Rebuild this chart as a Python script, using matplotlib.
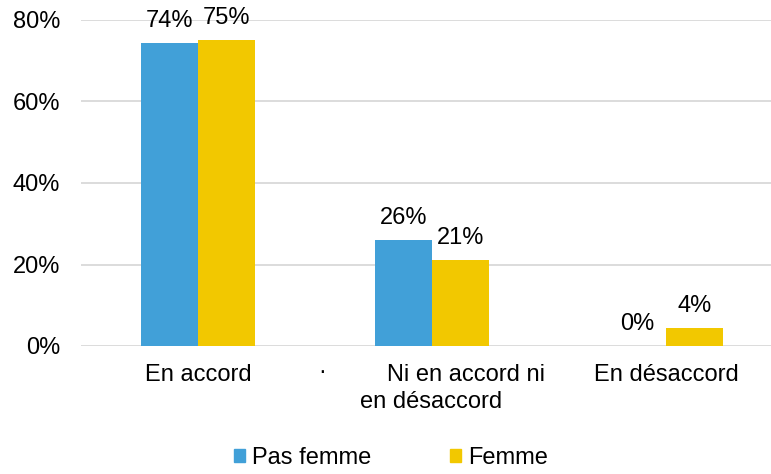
import matplotlib
matplotlib.use("Agg")
import matplotlib.pyplot as plt
import numpy as np
from matplotlib.patches import Patch
import matplotlib.transforms as mtrans

plt.rcParams['font.family'] = ['Liberation Sans', 'DejaVu Sans']

categories = ["En accord", "Ni en accord ni\nen désaccord", "En désaccord"]
series_names = ["Pas femme", "Femme"]
pas_femme = [74.4, 26.0, 0.0]
femme = [75.1, 21.1, 4.4]
labels_pas_femme = ["74%", "26%", "0%"]
labels_femme = ["75%", "21%", "4%"]
yticks = [0, 20, 40, 60, 80]
ytick_labels = ["0%", "20%", "40%", "60%", "80%"]

blue = "#41A0D8"
yellow = "#F2C800"
FS = 17

W, H = 771, 474
fig = plt.figure(figsize=(W/100, H/100), dpi=100)
ax = fig.add_axes([81/W, (H-346)/H, (771-81)/W, 326/H])

x = np.arange(len(categories))
bw = 0.245
b1 = ax.bar(x - bw/2, pas_femme, bw, color=blue, zorder=3)
b2 = ax.bar(x + bw/2, femme, bw, color=yellow, zorder=3)

for bars, labs in ((b1, labels_pas_femme), (b2, labels_femme)):
    for r, lab in zip(bars, labs):
        ax.annotate(lab, (r.get_x() + r.get_width()/2, r.get_height()),
                    xytext=(0, 16), textcoords="offset points",
                    ha="center", va="center", fontsize=FS, color="#000000")

ax.set_xlim(-0.5, 2.449)
ax.set_ylim(0, 80)
ax.set_yticks(yticks)
ax.set_yticklabels(ytick_labels, fontsize=FS)
ax.yaxis.grid(True, color="#D9D9D9", linewidth=1.3, zorder=0)
ax.set_axisbelow(True)
for s in ax.spines.values():
    s.set_visible(False)
ax.tick_params(axis="both", length=0)
ax.tick_params(axis="y", pad=15)
ax.set_xticks([])

# x category labels
trans = mtrans.blended_transform_factory(ax.transData, fig.transFigure)
ax.text(0, (H-375)/H, categories[0], transform=trans, ha="center", va="center", fontsize=FS)
ax.text(2, (H-375)/H, categories[2], transform=trans, ha="center", va="center", fontsize=FS)
ax.text((322-198)/234, (H-372)/H, "·", transform=trans, ha="center", va="center", fontsize=FS)
ax.text((466-198)/234, (H-375)/H, "Ni en accord ni", transform=trans, ha="center", va="center", fontsize=FS)
ax.text((431-198)/234, (H-402)/H, "en désaccord", transform=trans, ha="center", va="center", fontsize=FS)

handles = [Patch(color=blue), Patch(color=yellow)]
fig.legend(handles, series_names, loc="center", bbox_to_anchor=(391/W, (H-458)/H),
           ncol=2, frameon=False, fontsize=FS, handlelength=0.5, handleheight=0.5,
           handletextpad=0.3, columnspacing=3.3, borderpad=0, borderaxespad=0)

fig.savefig("out.png", dpi=100)
